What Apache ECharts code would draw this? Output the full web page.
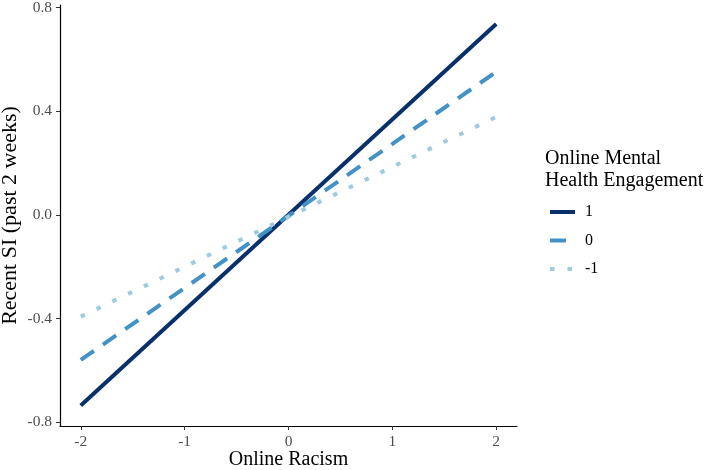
<!DOCTYPE html>
<html>
<head>
<meta charset="utf-8">
<script src="https://cdn.jsdelivr.net/npm/echarts@6/dist/echarts.min.js"></script>
<style>
  html, body { margin: 0; padding: 0; background: #fff; }
  #chart { width: 708px; height: 470px; }
</style>
</head>
<body>
<div id="chart"></div>
<script>
// 数据：自变量取值与三条简单斜率线
var racismVals = [-2, 2];
var engageHigh = [-0.736, 0.737];   // 1
var engageMid = [-0.56, 0.552];     // 0
var engageLow = [-0.393, 0.378];    // -1
var xTicks = [-2, -1, 0, 1, 2];
var yTicks = [-0.8, -0.4, 0.0, 0.4, 0.8];

var fontFam = '"Liberation Serif", "DejaVu Serif", serif';

function pairs(ys) {
	return racismVals.map(function(x, i) { return [x, ys[i]]; });
}

var myChart = echarts.init(document.getElementById('chart'));

var option = {
	animation: false,
	grid: {
		left: 60,
		right: 191,
		top: 5,
		bottom: 44,
		containLabel: false,
		outerBoundsMode: 'none'
	},
	title: {
		text: 'Online Mental\nHealth Engagement',
		left: 545,
		top: 148,
		padding: 0,
		textStyle: {
			fontFamily: fontFam,
			fontSize: 20,
			fontWeight: 'normal',
			color: '#000',
			lineHeight: 22
		}
	},
	legend: {
		orient: 'vertical',
		left: 548,
		top: 204,
		padding: 0,
		itemWidth: 25,
		itemHeight: 16,
		itemGap: 12.5,
		data: ['1', '0', '-1'],
		itemStyle: { opacity: 0 },
		lineStyle: { width: 4 },
		textStyle: {
			fontFamily: fontFam,
			fontSize: 16,
			color: '#000',
			padding: [0, 0, 0, 5]
		}
	},
	xAxis: {
		type: 'value',
		min: -2.2,
		max: 2.2,
		interval: 1,
		name: 'Online Racism',
		nameLocation: 'middle',
		nameGap: 24,
		nameMoveOverlap: false,
		nameTextStyle: { fontFamily: fontFam, fontSize: 20, color: '#000' },
		splitLine: { show: false },
		axisLine: { show: true, onZero: false, lineStyle: { color: '#000', width: 1.2 } },
		axisTick: { show: true, length: 4, lineStyle: { color: '#333' },
			customValues: xTicks },
		axisLabel: {
			fontFamily: fontFam, fontSize: 15.5, color: '#4d4d4d', margin: 8,
			customValues: xTicks,
			formatter: function(v) { return String(v); }
		}
	},
	yAxis: {
		type: 'value',
		min: -0.815,
		max: 0.81,
		name: 'Recent SI (past 2 weeks)',
		nameLocation: 'middle',
		nameGap: 39,
		nameMoveOverlap: false,
		nameRotate: 90,
		nameTextStyle: { fontFamily: fontFam, fontSize: 22, color: '#000' },
		splitLine: { show: false },
		axisLine: { show: true, onZero: false, lineStyle: { color: '#000', width: 1.2 } },
		axisTick: { show: true, length: 4, lineStyle: { color: '#333' },
			customValues: yTicks },
		axisLabel: {
			fontFamily: fontFam, fontSize: 15.5, color: '#4d4d4d', margin: 8,
			customValues: yTicks,
			formatter: function(v) { return v.toFixed(1); }
		}
	},
	series: [
		{
			name: '1',
			type: 'line',
			data: pairs(engageHigh),
			symbol: 'none',
			color: '#08306b',
			lineStyle: { color: '#08306b', width: 4, type: 'solid' }
		},
		{
			name: '0',
			type: 'line',
			data: pairs(engageMid),
			symbol: 'none',
			color: '#4292c6',
			lineStyle: { color: '#4292c6', width: 4, type: [16, 11] }
		},
		{
			name: '-1',
			type: 'line',
			data: pairs(engageLow),
			symbol: 'none',
			color: '#9ecae1',
			lineStyle: { color: '#9ecae1', width: 4, type: [4.5, 13] }
		}
	]
};

myChart.setOption(option);
</script>
</body>
</html>
